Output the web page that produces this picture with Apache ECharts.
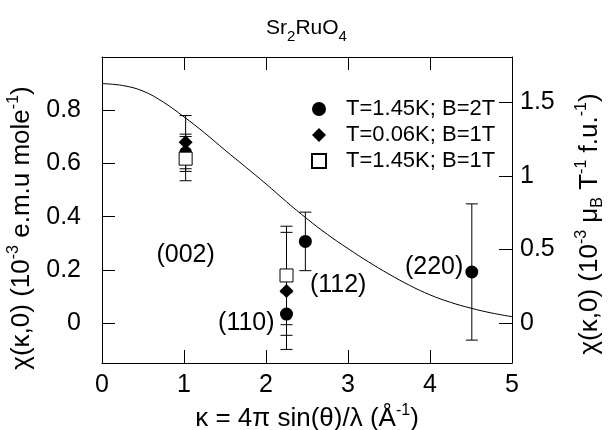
<!DOCTYPE html>
<html>
<head>
<meta charset="utf-8">
<script src="https://cdn.jsdelivr.net/npm/echarts@6/dist/echarts.min.js"></script>
<style>
  html, body { margin: 0; padding: 0; background: #fff; }
  #chart { width: 613px; height: 430px; }
</style>
</head>
<body>
<div id="chart"></div>
<script>
// model curve
const curveK = [0, 0.25, 0.5, 0.75, 1.0, 1.25, 1.5, 1.75, 2.0, 2.25, 2.5, 2.75, 3.0, 3.25, 3.5, 3.75, 4.0, 4.25, 4.5, 4.75, 5.0];
const curveChi = [0.900, 0.893, 0.872, 0.830, 0.775, 0.715, 0.650, 0.587, 0.523, 0.456, 0.392, 0.333, 0.280, 0.230, 0.184, 0.142, 0.106, 0.078, 0.056, 0.038, 0.024];

// T=1.45K; B=2T
const circleK = [1.02, 2.25, 2.48, 4.51];
const circleChi = [0.64, 0.034, 0.307, 0.192];
const circleErr = [0.07, 0.08, 0.11, 0.256];
// T=0.06K; B=1T
const diamondK = [1.02, 2.25];
const diamondChi = [0.68, 0.121];
const diamondErr = [0.10, 0.22];
// T=1.45K; B=1T
const squareK = [1.02, 2.25];
const squareChi = [0.618, 0.179];
const squareErr = [0.083, 0.185];

// reflection labels
const hklText = ['(002)', '(110)', '(112)', '(220)'];
const hklK = [1.02, 1.76, 2.88, 4.05];
const hklChi = [0.254, 0.0, 0.142, 0.21];

// axis ticks
const xTicks = [0, 1, 2, 3, 4, 5];
const leftTicks = [0, 0.2, 0.4, 0.6, 0.8];
const rightTicks = [0, 0.5, 1, 1.5];

const legendNames = ['T=1.45K; B=2T', 'T=0.06K; B=1T', 'T=1.45K; B=1T'];

const FONT = 'Liberation Sans, Arial, Helvetica, sans-serif';
const leftMin = -0.15, leftMax = 1.0;
const scaleRatio = 1.807; // right axis units per left axis unit

const zip = (a, b) => a.map((v, i) => [v, b[i]]);

const errData = [];
[[circleK, circleChi, circleErr], [diamondK, diamondChi, diamondErr], [squareK, squareChi, squareErr]].forEach(([k, c, e]) => {
  k.forEach((kv, i) => errData.push([kv, c[i] - e[i], c[i] + e[i]]));
});

const chart = echarts.init(document.getElementById('chart'), null, { renderer: 'canvas' });

const axisCommon = {
  type: 'value',
  axisLine: { show: true, onZero: false, lineStyle: { color: '#000', width: 1 } },
  axisTick: { show: true, inside: true, length: 13, lineStyle: { color: '#000', width: 1 } },
  splitLine: { show: false },
  axisLabel: { color: '#000', fontFamily: FONT, fontSize: 25 }
};

const nameRich = {
  n: { fontFamily: FONT, fontSize: 26, color: '#000', lineHeight: 32 },
  sup: { fontFamily: FONT, fontSize: 16, color: '#000', verticalAlign: 'top', lineHeight: 32, padding: [0, 0, 12, 0] },
  sub: { fontFamily: FONT, fontSize: 16, color: '#000', verticalAlign: 'bottom', lineHeight: 32, padding: [10, 0, 0, 0] }
};

const option = {
  animation: false,
  backgroundColor: '#fff',
  title: {
    text: '{n|Sr}{sub|2}{n|RuO}{sub|4}',
    left: 'center',
    top: 7,
    textStyle: {
      rich: {
        n: { fontFamily: FONT, fontSize: 21, fontWeight: 'normal', color: '#000', lineHeight: 32 },
        sub: { fontFamily: FONT, fontSize: 15, fontWeight: 'normal', color: '#000', verticalAlign: 'bottom', lineHeight: 32, padding: [13, 0, 0, 0] }
      }
    }
  },
  legend: {
    orient: 'vertical',
    left: 306,
    top: 93,
    itemWidth: 14,
    itemHeight: 14,
    itemGap: 4,
    data: legendNames,
    textStyle: { color: '#000', fontFamily: FONT, fontSize: 22, padding: [0, 0, 0, 15] }
  },
  grid: { left: 102, right: 101, top: 57, bottom: 67, outerBoundsMode: 'none' },
  xAxis: [
    Object.assign({}, axisCommon, {
      min: 0, max: 5, interval: 1,
      position: 'bottom',
      axisLabel: Object.assign({}, axisCommon.axisLabel, { margin: 10, customValues: xTicks }),
      name: '{n|κ = 4π sin(θ)/λ (Å}{sup|-1}{n|)}',
      nameLocation: 'middle',
      nameGap: 31,
      nameTextStyle: { rich: nameRich }
    }),
    Object.assign({}, axisCommon, {
      min: 0, max: 5, interval: 1,
      position: 'top',
      axisLabel: { show: false }
    })
  ],
  yAxis: [
    Object.assign({}, axisCommon, {
      min: leftMin, max: leftMax,
      position: 'left',
      axisLabel: Object.assign({}, axisCommon.axisLabel, {
        margin: 21,
        customValues: leftTicks,
        formatter: v => (v === 0 ? '0' : v.toFixed(1))
      }),
      axisTick: Object.assign({}, axisCommon.axisTick, { customValues: leftTicks }),
      name: '{n|χ(κ,0) (10}{sup|-3}{n| e.m.u mole}{sup|-1}{n|)}',
      nameLocation: 'middle',
      nameRotate: 90,
      nameGap: 64,
      nameTextStyle: { rich: nameRich, padding: [0, 36, 0, 0] }
    }),
    Object.assign({}, axisCommon, {
      min: leftMin * scaleRatio, max: leftMax * scaleRatio,
      position: 'right',
      axisLabel: Object.assign({}, axisCommon.axisLabel, {
        margin: 8,
        customValues: rightTicks,
        formatter: v => String(v)
      }),
      axisTick: Object.assign({}, axisCommon.axisTick, { customValues: rightTicks }),
      name: '{n|χ(κ,0) (10}{sup|-3}{n| μ}{sub|B}{n| T}{sup|-1}{n| f.u.}{sup|-1}{n|)}',
      nameLocation: 'middle',
      nameRotate: 90,
      nameGap: 62,
      nameTextStyle: { rich: nameRich, padding: [0, 28, 0, 0] }
    })
  ],
  series: [
    {
      type: 'line',
      data: zip(curveK, curveChi),
      smooth: 0.4,
      showSymbol: false,
      silent: true,
      lineStyle: { color: '#000', width: 1 }
    },
    {
      type: 'custom',
      silent: true,
      data: errData,
      renderItem: (params, api) => {
        const top = api.coord([api.value(0), api.value(2)]);
        const bot = api.coord([api.value(0), api.value(1)]);
        const w = 6;
        const st = { stroke: '#000', lineWidth: 1 };
        return {
          type: 'group',
          children: [
            { type: 'line', shape: { x1: top[0], y1: top[1], x2: bot[0], y2: bot[1] }, style: st },
            { type: 'line', shape: { x1: top[0] - w, y1: top[1], x2: top[0] + w, y2: top[1] }, style: st },
            { type: 'line', shape: { x1: bot[0] - w, y1: bot[1], x2: bot[0] + w, y2: bot[1] }, style: st }
          ]
        };
      }
    },
    {
      name: legendNames[0],
      type: 'scatter',
      data: zip(circleK, circleChi),
      symbol: 'circle',
      symbolSize: 13,
      itemStyle: { color: '#000', opacity: 1 }
    },
    {
      name: legendNames[1],
      type: 'scatter',
      data: zip(diamondK, diamondChi),
      symbol: 'diamond',
      symbolSize: 14,
      itemStyle: { color: '#000', opacity: 1 }
    },
    {
      name: legendNames[2],
      type: 'scatter',
      data: zip(squareK, squareChi),
      symbol: 'rect',
      symbolSize: 13,
      itemStyle: { color: '#fff', borderColor: '#000', borderWidth: 1, opacity: 1 }
    },
    {
      type: 'scatter',
      silent: true,
      symbolSize: 0,
      itemStyle: { opacity: 1 },
      data: hklText.map((t, i) => ({ name: t, value: [hklK[i], hklChi[i]] })),
      label: {
        show: true,
        position: 'inside',
        formatter: p => p.name,
        color: '#000',
        fontFamily: FONT,
        fontSize: 25
      }
    }
  ]
};

chart.setOption(option);
</script>
</body>
</html>
